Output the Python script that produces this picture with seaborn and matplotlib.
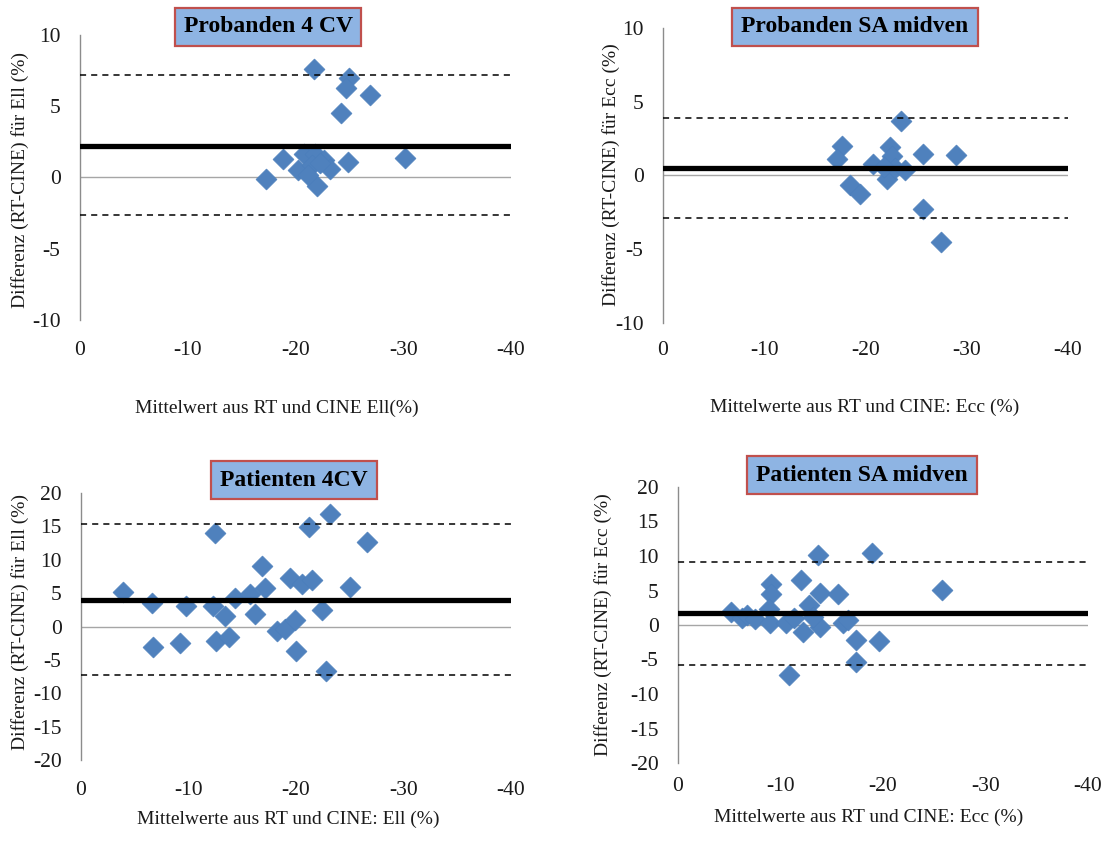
import matplotlib
matplotlib.use("Agg")
import matplotlib.pyplot as plt
import seaborn as sns
import pandas as pd

W, H = 1118, 847

# Probanden, 4-Kammerblick: longitudinaler Strain (Ell)
prob_4cv_mean = [-21.7, -25.0, -24.7, -26.9, -24.2, -18.8, -17.3, -24.9, -30.2,
                 -22.0, -20.8, -21.8, -22.6, -20.2, -21.5, -23.2, -21.2, -22.3]
prob_4cv_diff = [7.6, 7.0, 6.3, 5.8, 4.5, 1.3, -0.1, 1.1, 1.35,
                 -0.6, 1.65, 1.65, 1.2, 0.5, 0.9, 0.6, 0.2, 1.0]
prob_4cv_bias = 2.2
prob_4cv_loa = [7.17, -2.63]

# Probanden, kurze Achse midventrikulär: zirkumferentieller Strain (Ecc)
prob_sa_mean = [-23.5, -17.7, -17.2, -25.7, -28.9, -18.5, -19.5, -25.7, -27.5,
                -20.7, -22.4, -22.6, -22.1, -22.9, -23.9, -21.8]
prob_sa_diff = [3.7, 2.0, 1.1, 1.45, 1.4, -0.65, -1.25, -2.3, -4.5,
                0.8, 1.95, 1.3, -0.25, 0.5, 0.4, 0.6]
prob_sa_bias = 0.5
prob_sa_loa = [3.88, -2.9]

# Patienten, 4-Kammerblick: Ell
pat_4cv_mean = [-3.9, -6.6, -6.7, -9.2, -9.8, -12.5, -12.3, -12.6, -13.4, -13.8,
                -14.3, -15.7, -16.2, -16.8, -17.1, -18.2, -19.0, -19.9, -20.0,
                -19.4, -20.6, -21.5, -21.2, -23.2, -22.4, -22.8, -25.0, -26.6]
pat_4cv_diff = [5.1, 3.5, -3.0, -2.4, 3.0, 14.0, 3.0, -2.2, 1.6, -1.6,
                4.2, 4.9, 1.8, 9.1, 5.7, -0.6, -0.4, 1.0, -3.7,
                7.2, 6.4, 7.0, 14.9, 16.8, 2.5, -6.7, 5.9, 12.6]
pat_4cv_bias = 3.97
pat_4cv_loa = [15.36, -7.27]

# Patienten, kurze Achse midventrikulär: Ecc
pat_sa_mean = [-5.2, -6.2, -6.7, -7.5, -9.1, -9.1, -8.9, -9.0, -10.5, -10.8,
               -12.0, -12.2, -12.8, -13.7, -13.9, -13.9, -15.6, -16.1, -16.6,
               -17.4, -17.4, -18.9, -19.6, -11.3, -13.2, -25.8]
pat_sa_diff = [1.9, 1.0, 1.45, 0.8, 6.0, 4.5, 2.3, 0.25, 0.25, -7.2,
               6.5, -1.0, 2.9, 10.1, 4.7, -0.25, 4.5, 0.3, 0.7,
               -2.2, -5.3, 10.4, -2.3, 1.0, 1.2, 5.1]
pat_sa_bias = 1.7
pat_sa_loa = [9.09, -5.8]

x_ticks = [0, -10, -20, -30, -40]

sns.set_theme(style="white")
plt.rcParams["font.family"] = ["Liberation Serif", "DejaVu Serif"]
plt.rcParams["axes.unicode_minus"] = False

fig = plt.figure(figsize=(W / 100, H / 100), dpi=100)


def px_axes(left, top, right, bottom):
    return fig.add_axes([left / W, 1 - bottom / H, (right - left) / W, (bottom - top) / H])


def fig_text(x, y, s, **kw):
    return fig.text(x / W, 1 - y / H, s, **kw)


panels = [
    dict(title="Probanden 4 CV", mean=prob_4cv_mean, diff=prob_4cv_diff,
         bias=prob_4cv_bias, loa=prob_4cv_loa, ylim=(-10, 10), ystep=5,
         box=(80, 35, 511, 320), xpad=15,
         ylabel="Differenz (RT-CINE) für Ell (%)", ylabel_xy=(20, 180),
         xlabel="Mittelwert aus RT und CINE Ell(%)", xlabel_xy=(277, 408),
         title_xy=(268, 27)),
    dict(title="Probanden SA midven", mean=prob_sa_mean, diff=prob_sa_diff,
         bias=prob_sa_bias, loa=prob_sa_loa, ylim=(-10, 10), ystep=5,
         box=(663, 28, 1068, 323), xpad=13,
         ylabel="Differenz (RT-CINE) für Ecc (%)", ylabel_xy=(611, 175),
         xlabel="Mittelwerte aus RT und CINE: Ecc (%)", xlabel_xy=(865, 407),
         title_xy=(855, 27)),
    dict(title="Patienten 4CV", mean=pat_4cv_mean, diff=pat_4cv_diff,
         bias=pat_4cv_bias, loa=pat_4cv_loa, ylim=(-20, 20), ystep=5,
         box=(81, 493, 511, 760), xpad=15,
         ylabel="Differenz (RT-CINE) für Ell (%)", ylabel_xy=(20, 622),
         xlabel="Mittelwerte aus RT und CINE: Ell (%)", xlabel_xy=(288, 819),
         title_xy=(294, 480)),
    dict(title="Patienten SA midven", mean=pat_sa_mean, diff=pat_sa_diff,
         bias=pat_sa_bias, loa=pat_sa_loa, ylim=(-20, 20), ystep=5,
         box=(678, 487, 1088, 763), xpad=10,
         ylabel="Differenz (RT-CINE) für Ecc (%)", ylabel_xy=(603, 625),
         xlabel="Mittelwerte aus RT und CINE: Ecc (%)", xlabel_xy=(869, 817),
         title_xy=(862, 475)),
]

for p in panels:
    ax = px_axes(*p["box"])
    df = pd.DataFrame({"Mittelwert": p["mean"], "Differenz": p["diff"]})

    # zero line (horizontal axis), bias and limits of agreement
    ax.axhline(0, color="#A6A6A6", lw=1.0, zorder=1)
    sns.scatterplot(data=df, x="Mittelwert", y="Differenz", marker="D", s=115,
                    color="#4F81BD", edgecolor="#4A7EBB", linewidth=0.4,
                    ax=ax, zorder=3)
    ax.axhline(p["bias"], color="black", lw=3.8, zorder=4)
    for v in p["loa"]:
        ax.axhline(v, color="black", lw=1.1, ls=(0, (4, 3.3)), zorder=4)

    ax.set_xlim(0, -40)
    ax.set_ylim(*p["ylim"])
    ax.set_xticks(x_ticks)
    ax.set_xticklabels([str(t) for t in x_ticks])
    yt = list(range(p["ylim"][0], p["ylim"][1] + 1, p["ystep"]))
    ax.set_yticks(yt)
    ax.set_yticklabels([str(t) for t in yt])
    ax.tick_params(axis="both", length=0, labelsize=15.5, colors="#1a1a1a")
    ax.tick_params(axis="x", pad=p["xpad"])
    ax.tick_params(axis="y", pad=14)
    ax.set_xlabel("")
    ax.set_ylabel("")
    ax.grid(False)
    ax.set_facecolor("none")
    for side in ("top", "right", "bottom"):
        ax.spines[side].set_visible(False)
    ax.spines["left"].set_color("#8C8C8C")
    ax.spines["left"].set_linewidth(1.0)

    fig_text(*p["ylabel_xy"], p["ylabel"], rotation=90, ha="center", va="center",
             fontsize=14, color="#1a1a1a")
    fig_text(*p["xlabel_xy"], p["xlabel"], ha="center", va="center",
             fontsize=14, color="#1a1a1a")
    fig_text(*p["title_xy"], p["title"], ha="center", va="center", fontsize=17,
             fontweight="bold", color="black",
             bbox=dict(boxstyle="square,pad=0.38", facecolor="#8EB4E3",
                       edgecolor="#C0504D", linewidth=1.6))

fig.savefig("out.png", dpi=100, facecolor="white")
